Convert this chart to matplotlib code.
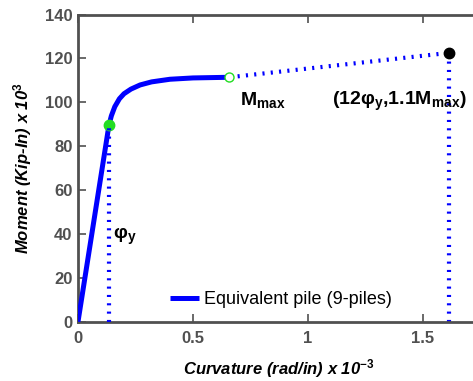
import numpy as np
import matplotlib
matplotlib.use("Agg")
import matplotlib.pyplot as plt

plt.rcParams['font.family'] = ['Liberation Sans', 'DejaVu Sans']
plt.rcParams['mathtext.fontset'] = 'custom'
plt.rcParams['mathtext.rm'] = 'Liberation Sans:bold'
plt.rcParams['mathtext.it'] = 'Liberation Sans:bold:italic'
plt.rcParams['mathtext.bf'] = 'Liberation Sans:bold'
plt.rcParams['mathtext.default'] = 'rm'

# moment-curvature data (curvature x 1e-3, moment x 1e3)
curvature = [0, 0.1345, 0.145, 0.16, 0.18, 0.2, 0.23, 0.27, 0.32, 0.4, 0.5, 0.658]
moment = [0, 89.5, 93.8, 98.0, 101.6, 103.9, 106.0, 107.9, 109.3, 110.5, 111.1, 111.4]
phi_y = 0.1345
m_y = 89.5
phi_max = 0.658
m_max = 111.4
phi_end = 12 * phi_y
m_end = 1.1 * m_max

grey = '#505050'
blue = '#0000ff'

fig = plt.figure(figsize=(4.73, 3.81), dpi=100)
ax = fig.add_axes([0.1649, 0.1556, 0.851, 0.8063])

ax.plot(curvature, moment, color=blue, lw=3.6, solid_capstyle='butt',
        label='Equivalent pile (9-piles)', zorder=3)

dots = dict(color=blue, lw=3.0, dashes=(0.5, 1.5), dash_capstyle='butt')
ax.plot([phi_max, phi_end], [m_max, m_end], zorder=2, **dots)
ax.plot([phi_y, phi_y], [0, m_y], zorder=5, **dots)
ax.plot([phi_end, phi_end], [0, m_end], zorder=2, **dots)

ax.plot(phi_y, m_y, 'o', ms=7.5, mfc='#22dd22', mec='#22dd22', zorder=4)
ax.plot(phi_max, m_max, 'o', ms=6.5, mfc='white', mec='#22dd22', mew=1.0, zorder=4)
ax.plot(phi_end, m_end, 'o', ms=7.5, mfc='black', mec='black', zorder=4)

ax.text(0.152, 37.7, 'φ$_{y}$', fontsize=14, fontweight='bold', va='baseline')
ax.text(0.704, 98.8, 'M$_{max}$', fontsize=14, fontweight='bold', va='baseline')
ax.text(1.104, 98.8, '(12φ$_{y}$,1.1M$_{max}$)', fontsize=14, fontweight='bold',
        va='baseline')

ax.set_xlim(0, 1.75)
ax.set_ylim(0, 140)
ax.set_xticks([0, 0.5, 1, 1.5])
ax.set_xticklabels(['0', '0.5', '1', '1.5'])
ax.set_yticks(np.arange(0, 141, 20))

for s in ax.spines.values():
    s.set_color(grey)
    s.set_linewidth(2)
ax.tick_params(direction='in', length=5.5, width=1.2, color=grey,
               labelcolor=grey, labelsize=12, top=True, right=True)
ax.tick_params(axis='x', pad=7)
ax.tick_params(axis='y', pad=4)
for lab in ax.get_xticklabels() + ax.get_yticklabels():
    lab.set_fontweight('bold')

ax.set_xlabel('Curvature (rad/in) x 10$^{\\mathit{-3}}$', fontsize=12,
              fontweight='bold', style='italic')
ax.set_ylabel('Moment (Kip-In) x 10$^{\\mathit{3}}$', fontsize=12,
              fontweight='bold', style='italic')
ax.xaxis.set_label_coords(0.5, -0.115)
ax.yaxis.set_label_coords(-0.11, 0.5)

ax.legend(loc='center left', bbox_to_anchor=(0.2286, 0.0714), frameon=False,
          fontsize=13, borderpad=0, borderaxespad=0, handlelength=1.6,
          handletextpad=0.3)

fig.savefig('out.png', dpi=100)
